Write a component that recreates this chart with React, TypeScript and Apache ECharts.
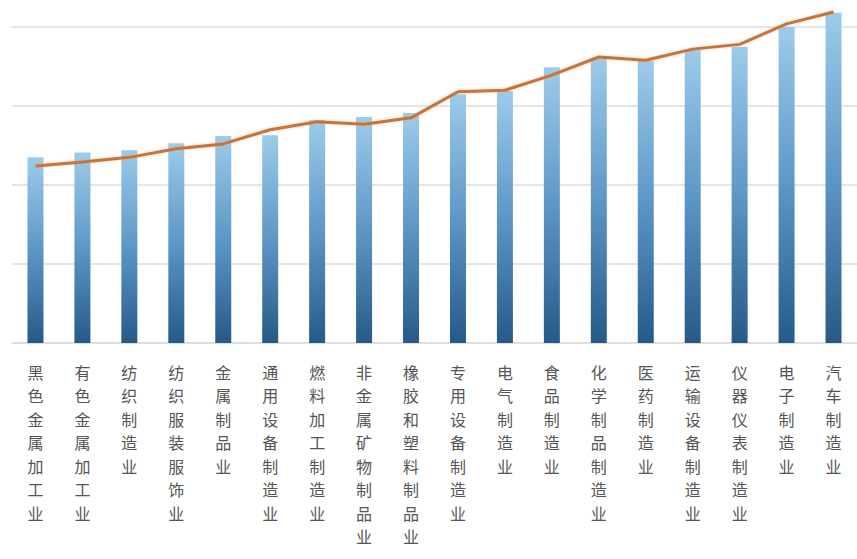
import React, { useEffect, useRef } from "react";
import * as echarts from "echarts";

const categories = [
  "黑色金属加工业",
  "有色金属加工业",
  "纺织制造业",
  "纺织服装服饰业",
  "金属制品业",
  "通用设备制造业",
  "燃料加工制造业",
  "非金属矿物制品业",
  "橡胶和塑料制品业",
  "专用设备制造业",
  "电气制造业",
  "食品制造业",
  "化学制品制造业",
  "医药制造业",
  "运输设备制造业",
  "仪器仪表制造业",
  "电子制造业",
  "汽车制造业",
];

const barValues = [2.35, 2.41, 2.44, 2.53, 2.62, 2.63, 2.82, 2.86, 2.91, 3.15, 3.19, 3.49, 3.61, 3.57, 3.71, 3.75, 4.0, 4.18];
const lineValues = [2.24, 2.29, 2.35, 2.46, 2.52, 2.7, 2.8, 2.77, 2.85, 3.18, 3.2, 3.39, 3.62, 3.58, 3.72, 3.78, 4.04, 4.19];

export default function App() {
  const ref = useRef<HTMLDivElement>(null);
  useEffect(() => {
    if (!ref.current) return;
    const chart = echarts.init(ref.current, undefined, { renderer: "svg" });
    chart.setOption({
      animation: false,
      backgroundColor: "#ffffff",
      grid: { left: 12, top: 3.3, width: 850, bottom: 216, containLabel: false },
      xAxis: {
        type: "category",
        data: categories,
        axisLine: { show: true, lineStyle: { color: "#dcdcdc", width: 1.5 } },
        axisTick: { show: false },
        axisLabel: {
          interval: 0,
          margin: 17,
          fontSize: 16,
          lineHeight: 23.5,
          color: "#555555",
          fontFamily: "Noto Sans CJK SC",
          formatter: (v: string) => v.split("").join("\n"),
        },
      },
      yAxis: {
        type: "value",
        min: 0,
        max: 4.3,
        interval: 1,
        axisLabel: { show: false },
        axisLine: { show: false },
        axisTick: { show: false },
        splitLine: {
          show: true,
          lineStyle: {
            color: ["#dcdcdc", "#dcdcdc", "#dcdcdc", "#dcdcdc", "#dcdcdc", "rgba(0,0,0,0)"],
            width: 1.5,
          },
        },
      },
      series: [
        {
          type: "bar",
          data: barValues,
          barWidth: 16,
          itemStyle: {
            color: new echarts.graphic.LinearGradient(0, 0, 0, 1, [
              { offset: 0, color: "#9dcbea" },
              { offset: 0.5, color: "#5d97c6" },
              { offset: 1, color: "#255a88" },
            ]),
          },
        },
        {
          type: "line",
          data: lineValues,
          symbol: "none",
          lineStyle: {
            color: "#c4743e",
            width: 3,
            shadowColor: "rgba(240,170,110,0.6)",
            shadowBlur: 3,
          },
          z: 3,
        },
      ],
    });
    return () => chart.dispose();
  }, []);
  return <div ref={ref} style={{ width: 857, height: 559, position: "absolute", left: 0, top: 0 }} />;
}
